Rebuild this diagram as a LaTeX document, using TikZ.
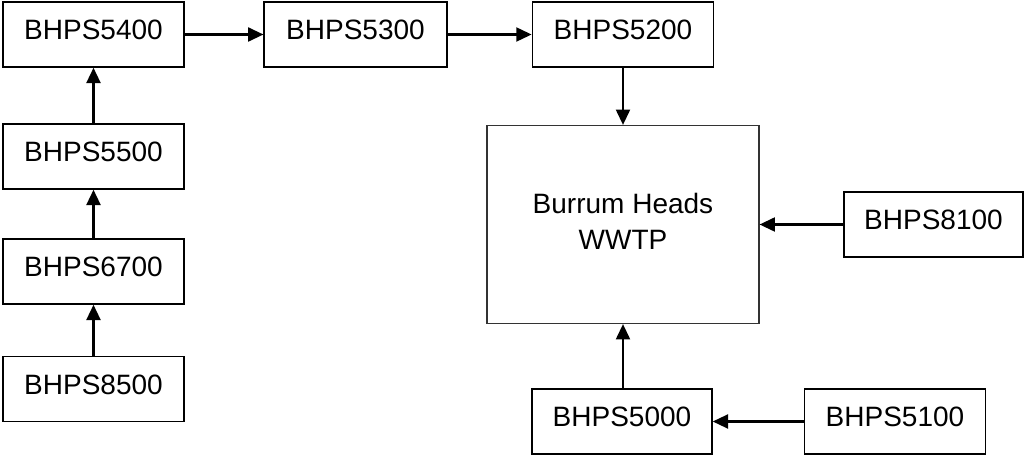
\documentclass[tikz,border=0pt]{standalone}
\usepackage{fontspec}
\setmainfont{Liberation Sans}
\usetikzlibrary{arrows.meta}
\begin{document}
\begin{tikzpicture}[x=0.75pt,y=-0.75pt,
  station/.style={draw=black,line width=1.1pt,minimum width=136pt,minimum height=48.75pt,
    inner sep=0pt,text height=15pt,text depth=7.5pt,
    font=\fontsize{21}{27}\selectfont},
  plant/.style={draw=black!80,line width=0.9pt,minimum width=204pt,minimum height=148.5pt,
    inner sep=0pt,align=center,font=\fontsize{21}{27}\selectfont},
  flow/.style={line width=1.6pt,-{Triangle[length=11.5pt,width=10.5pt]}}]
\useasboundingbox (0,0) rectangle (1026,456);

% left chain
\node[station] (s5400) at (93.5,34.5)  {BHPS5400};
\node[station] (s5500) at (93.5,156.5) {BHPS5500};
\node[station] (s6700) at (93.5,271.5) {BHPS6700};
\node[station] (s8500) at (93.5,389)   {BHPS8500};

% top row
\node[station,minimum width=137pt] (s5300) at (355.5,34.5) {BHPS5300};
\node[station] (s5200) at (623,34.5) {BHPS5200};

% treatment plant
\node[plant] (wwtp) at (623,224.5) {Burrum Heads\\WWTP\rule[-4.5pt]{0pt}{0pt}};

% right and bottom stations
\node[station,minimum width=134pt] (s8100) at (933.5,224.5) {BHPS8100};
\node[station,minimum width=135pt] (s5000) at (622,421.5) {BHPS5000};
\node[station] (s5100) at (895,421.5) {BHPS5100};

% flows
\draw[flow] (s8500.north) -- (s6700.south);
\draw[flow] (s6700.north) -- (s5500.south);
\draw[flow] (s5500.north) -- (s5400.south);
\draw[flow] (s5400.east) -- (s5300.west);
\draw[flow] (s5300.east) -- (s5200.west);
\draw[flow] (s5200.south) -- (wwtp.north);
\draw[flow] (s8100.west) -- (wwtp.east);
\draw[flow] (s5100.west) -- (s5000.east);
\draw[flow] ([xshift=0.75pt]s5000.north) -- (wwtp.south);
\end{tikzpicture}
\end{document}
